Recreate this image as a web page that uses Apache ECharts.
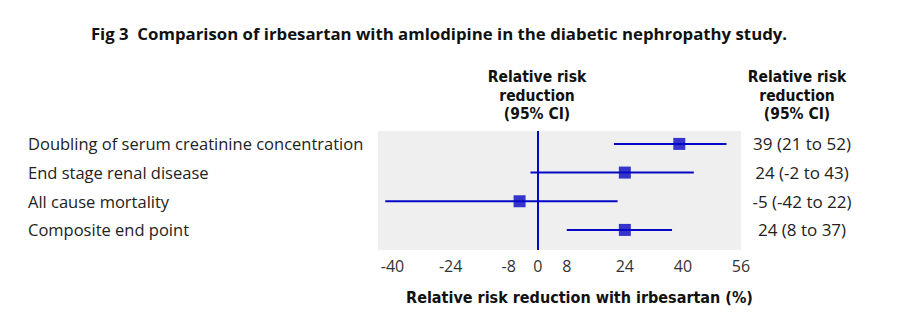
<!DOCTYPE html>
<html><head><meta charset="utf-8">
<script src="https://cdn.jsdelivr.net/npm/echarts@6/dist/echarts.min.js"></script>
<style>html,body{margin:0;padding:0;background:#fff}#c{width:912px;height:331px}</style>
</head><body><div id="c"></div>
<script>
const categories = ['Doubling of serum creatinine concentration','End stage renal disease','All cause mortality','Composite end point'];
const estimates = [39, 24, -5, 24];
const lower = [21, -2, -42, 8];
const upper = [52, 43, 22, 37];
const ciLabels = ['39 (21 to 52)','24 (-2 to 43)','-5 (-42 to 22)','24 (8 to 37)'];
const xTicks = [-40, -24, -8, 0, 8, 24, 40, 56];
const title = 'Fig 3  Comparison of irbesartan with amlodipine in the diabetic nephropathy study.';
const headerLines = ['Relative risk', 'reduction', '(95% CI)'];
const xName = 'Relative risk reduction with irbesartan (%)';

const FONT = '"Open Sans", sans-serif';
const NARROW = '"Liberation Sans Narrow", "DejaVu Sans Condensed", sans-serif';
const BLUE = '#0606c6';
const rows = categories.map((c, i) => i);

const headerY = [77, 95.5, 114];
const headerGraphics = [];
[537, 797].forEach(cx => headerLines.forEach((t, k) => headerGraphics.push({
  type: 'text', x: cx, y: headerY[k],
  style: {text: t, font: 'bold 15.5px ' + NARROW, fill: '#111', align: 'center', verticalAlign: 'middle'}
})));

const chart = echarts.init(document.getElementById('c'), null, {renderer: 'svg'});
chart.setOption({
  animation: false,
  textStyle: {fontFamily: FONT},
  grid: {left: 378, right: 171, top: 131, bottom: 81, show: true, backgroundColor: '#efefef', borderWidth: 0},
  xAxis: {
    type: 'value', min: -44, max: 56,
    axisLine: {show: false}, axisTick: {show: false}, splitLine: {show: false},
    axisLabel: {customValues: xTicks, color: '#333', fontSize: 16, margin: 8, fontFamily: FONT},
    name: xName, nameLocation: 'middle', nameGap: 39,
    nameTextStyle: {fontWeight: 'bold', fontSize: 16, color: '#111', fontFamily: NARROW, padding: [0, 0, 0, 40]}
  },
  yAxis: [{
    type: 'value', min: -0.45, max: 3.7, inverse: true,
    axisLine: {show: false}, axisTick: {show: false}, splitLine: {show: false},
    axisLabel: {customValues: rows, formatter: v => categories[v], align: 'left', margin: 350, color: '#222', fontSize: 16.5, fontFamily: FONT}
  }, {
    type: 'value', min: -0.45, max: 3.7, inverse: true, position: 'right',
    axisLine: {show: false}, axisTick: {show: false}, splitLine: {show: false},
    axisLabel: {customValues: rows, formatter: v => ciLabels[v], align: 'center', margin: 61, color: '#222', fontSize: 17, fontFamily: FONT}
  }],
  graphic: [
    {type: 'text', x: 439, y: 33, style: {text: title, font: 'bold 16.8px ' + FONT, fill: '#111', align: 'center', verticalAlign: 'middle'}}
  ].concat(headerGraphics),
  series: [{
    type: 'custom',
    data: rows.map(i => [lower[i], upper[i], i]),
    renderItem: (params, api) => {
      const a = api.coord([api.value(0), api.value(2)]);
      const b = api.coord([api.value(1), api.value(2)]);
      return {type: 'line', shape: {x1: a[0], y1: a[1], x2: b[0], y2: b[1]}, style: {stroke: BLUE, lineWidth: 2}};
    },
    encode: {x: [0, 1], y: 2},
    z: 2
  }, {
    type: 'scatter',
    data: rows.map(i => [estimates[i], i]),
    symbol: 'rect', symbolSize: 12,
    itemStyle: {color: BLUE},
    z: 3,
    markLine: {
      silent: true, symbol: 'none', label: {show: false},
      lineStyle: {color: BLUE, width: 2, type: 'solid'},
      data: [{xAxis: 0}]
    }
  }]
});
</script></body></html>
